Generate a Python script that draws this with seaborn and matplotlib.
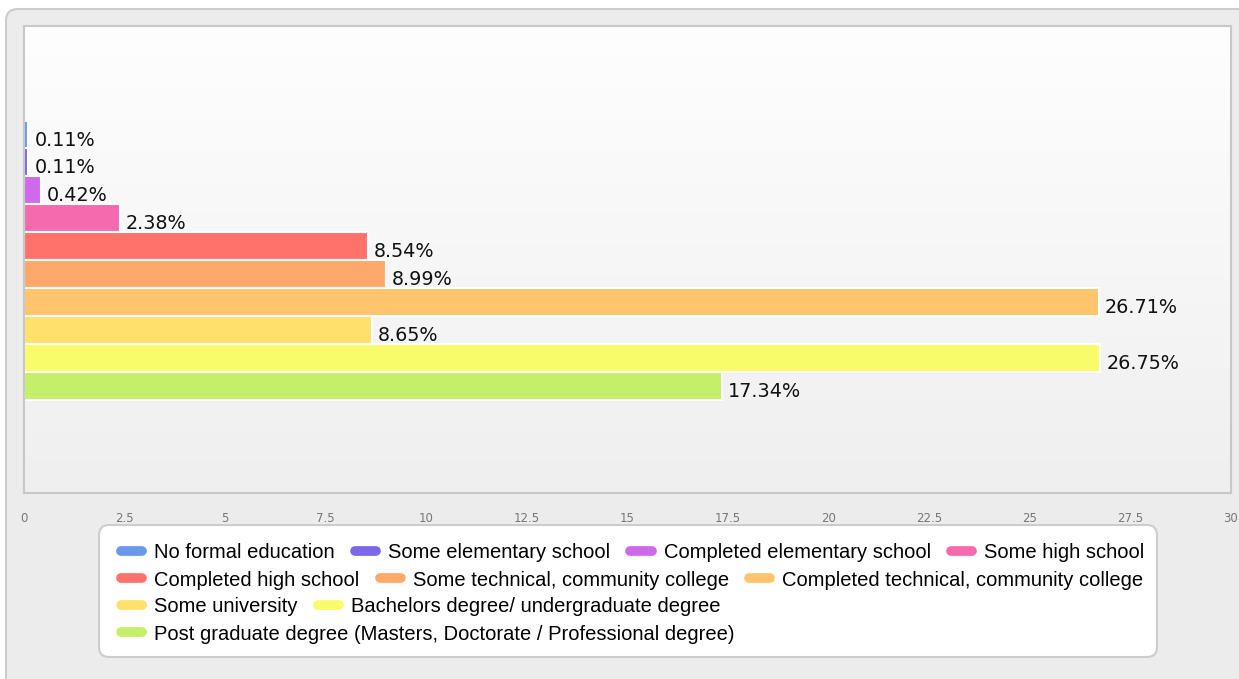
import numpy as np
import pandas as pd
import matplotlib
matplotlib.use("Agg")
import matplotlib.pyplot as plt
import seaborn as sns
from matplotlib.patches import FancyBboxPatch
from matplotlib.lines import Line2D

levels = [
    "No formal education",
    "Some elementary school",
    "Completed elementary school",
    "Some high school",
    "Completed high school",
    "Some technical, community college",
    "Completed technical, community college",
    "Some university",
    "Bachelors degree/ undergraduate degree",
    "Post graduate degree (Masters, Doctorate / Professional degree)",
]
percents = [0.11, 0.11, 0.42, 2.38, 8.54, 8.99, 26.71, 8.65, 26.75, 17.34]
colors = ["#6a98ec", "#7c66ea", "#cf68ea", "#f56aae", "#ff716b",
          "#ffa86b", "#ffc46c", "#ffe06c", "#f9fc6a", "#c5ef6a"]
x_ticks = [0, 2.5, 5, 7.5, 10, 12.5, 15, 17.5, 20, 22.5, 25, 27.5, 30]
legend_rows = [[0, 1, 2, 3], [4, 5, 6], [7, 8], [9]]

W, H = 1239, 679
fig = plt.figure(figsize=(W / 100, H / 100), dpi=100)
fig.patch.set_facecolor("white")

# grey outer panel
bg = fig.add_axes([0, 0, 1, 1])
bg.set_xlim(0, W)
bg.set_ylim(0, H)
bg.axis("off")
bg.add_patch(FancyBboxPatch((6, -30), W + 40, H - 9 + 30,
                            boxstyle="round,pad=0,rounding_size=12",
                            facecolor="#ececec", edgecolor="#cccccc", lw=1.5))

# plot area
ax = fig.add_axes([24 / W, 1 - 493 / H, (1231 - 24) / W, (493 - 26) / H])
grad = np.linspace(0, 1, 256).reshape(-1, 1)
ax.imshow(grad, cmap=matplotlib.colors.LinearSegmentedColormap.from_list(
    "g", ["#fefefe", "#efefef"]), aspect="auto", extent=[0, 1, 0, 1],
    transform=ax.transAxes, zorder=0)

df = pd.DataFrame({"level": levels, "pct": percents})
sns.barplot(data=df, x="pct", y="level", hue="level", palette=colors,
            orient="h", width=1.0, legend=False, edgecolor="white",
            linewidth=1.5, saturation=1, ax=ax, zorder=2)

for i, v in enumerate(percents):
    ax.text(v + 0.15, i + 0.2, f"{v:.2f}%", va="center", ha="left",
            fontsize=13.8, color="#111111", family="DejaVu Sans", zorder=3)

ax.set_xlim(0, 30)
ax.set_ylim(12.85, -3.89)
ax.set_xticks(x_ticks)
ax.set_xticklabels([f"{t:g}" for t in x_ticks], fontsize=8.5, color="#777777",
                   family="DejaVu Sans")
ax.tick_params(axis="x", length=0, pad=14)
ax.set_yticks([])
ax.set_xlabel("")
ax.set_ylabel("")
for s in ax.spines.values():
    s.set_color("#c8c8c8")
    s.set_linewidth(1.5)

# legend box
lg = fig.add_axes([98 / W, 1 - 658 / H, (1158 - 98) / W, (658 - 524) / H])
lg.set_xlim(0, 1060)
lg.set_ylim(0, 134)
lg.axis("off")
lg.add_patch(FancyBboxPatch((1, 1), 1058, 132,
                            boxstyle="round,pad=0,rounding_size=10",
                            facecolor="white", edgecolor="#cccccc", lw=1.5))

row_y = [553, 580, 607, 634]
for r, idx in enumerate(legend_rows):
    handles = [Line2D([], [], color=colors[i], lw=7, solid_capstyle="round")
               for i in idx]
    fig.legend(handles, [levels[i] for i in idx], ncol=len(idx),
               loc="center left", bbox_to_anchor=(121 / W, 1 - row_y[r] / H),
               frameon=False, borderpad=0, borderaxespad=0,
               prop={"family": "Liberation Sans", "size": 14.5},
               handlelength=1.05, handletextpad=0.6, columnspacing=1.0)

fig.savefig("out.png", dpi=100)
